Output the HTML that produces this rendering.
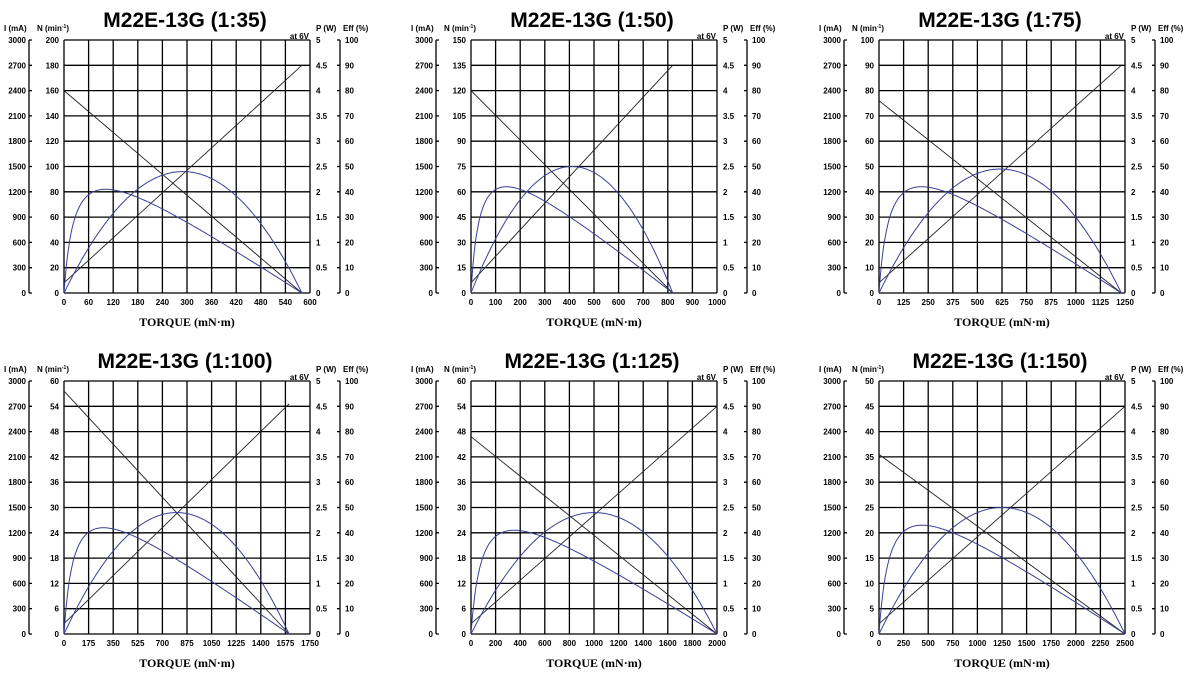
<!DOCTYPE html>
<html><head><meta charset="utf-8"><style>
body{margin:0;background:#fff;}
svg{display:block;font-family:"Liberation Sans",Arial,sans-serif;}
</style></head><body>
<svg id="s" width="1189" height="675" xmlns="http://www.w3.org/2000/svg"></svg>
<script>
var P=[
{t:"M22E-13G (1:35)",ox:0,oy:0,xt:[0,60,120,180,240,300,360,420,480,540,600],n:[0,20,40,60,80,100,120,140,160,180,200],st:0.967,n0:0.8,i1:0.9,pp:0.48,ep:0.41},
{t:"M22E-13G (1:50)",ox:407,oy:0,xt:[0,100,200,300,400,500,600,700,800,900,1000],n:[0,15,30,45,60,75,90,105,120,135,150],st:0.82,n0:0.8,i1:0.9,pp:0.5,ep:0.42},
{t:"M22E-13G (1:75)",ox:815,oy:0,xt:[0,125,250,375,500,625,750,875,1000,1125,1250],n:[0,10,20,30,40,50,60,70,80,90,100],st:0.985,n0:0.76,i1:0.9,pp:0.49,ep:0.42},
{t:"M22E-13G (1:100)",ox:0,oy:341,xt:[0,175,350,525,700,875,1050,1225,1400,1575,1750],n:[0,6,12,18,24,30,36,42,48,54,60],st:0.915,n0:0.96,i1:0.91,pp:0.48,ep:0.42},
{t:"M22E-13G (1:125)",ox:407,oy:341,xt:[0,200,400,600,800,1000,1200,1400,1600,1800,2000],n:[0,6,12,18,24,30,36,42,48,54,60],st:1.0,n0:0.78,i1:0.9,pp:0.48,ep:0.41},
{t:"M22E-13G (1:150)",ox:815,oy:341,xt:[0,250,500,750,1000,1250,1500,1750,2000,2250,2500],n:[0,5,10,15,20,25,30,35,40,45,50],st:1.0,n0:0.71,i1:0.9,pp:0.5,ep:0.43}
];
var I=[0,300,600,900,1200,1500,1800,2100,2400,2700,3000],PW=[0,0.5,1,1.5,2,2.5,3,3.5,4,4.5,5],EF=[0,10,20,30,40,50,60,70,80,90,100];
var h="";
P.forEach(function(p){
 var L=64+p.ox,T=40+p.oy,W=246,H=253,B=T+H,R=L+W;
 function X(f){return (L+f*W).toFixed(1)}function Y(f){return (B-f*H).toFixed(1)}
 h+='<text x="'+(185+p.ox)+'" y="'+(27+p.oy)+'" font-size="21" font-weight="bold" text-anchor="middle">'+p.t+'</text>';
 h+='<text x="'+(4+p.ox)+'" y="'+(31+p.oy)+'" font-size="8" font-weight="bold">I (mA)</text>';
 h+='<text x="'+(37+p.ox)+'" y="'+(31+p.oy)+'" font-size="8" font-weight="bold">N (min<tspan font-size="5" dy="-3">-1</tspan><tspan dy="3">)</tspan></text>';
 h+='<text x="'+(316+p.ox)+'" y="'+(31+p.oy)+'" font-size="8" font-weight="bold">P (W)</text>';
 h+='<text x="'+(343+p.ox)+'" y="'+(31+p.oy)+'" font-size="8" font-weight="bold">Eff (%)</text>';
 h+='<text x="'+(309+p.ox)+'" y="'+(39+p.oy)+'" font-size="8" font-weight="bold" text-anchor="end">at 6V</text>';
 var g="";
 for(var k=0;k<=10;k++){var y=Y(k/10),x=X(k/10);
  g+='M'+L+' '+y+'H'+R+'M'+x+' '+T+'V'+B;
  h+='<text x="'+(26+p.ox)+'" y="'+(+y+3)+'" font-size="8" font-weight="bold" text-anchor="end">'+I[k]+'</text>';
  h+='<text x="'+(59+p.ox)+'" y="'+(+y+3)+'" font-size="8" font-weight="bold" text-anchor="end">'+p.n[k]+'</text>';
  h+='<text x="'+(316+p.ox)+'" y="'+(+y+3)+'" font-size="8" font-weight="bold">'+PW[k]+'</text>';
  h+='<text x="'+(345+p.ox)+'" y="'+(+y+3)+'" font-size="8" font-weight="bold">'+EF[k]+'</text>';
  h+='<text x="'+x+'" y="'+(B+12)+'" font-size="8" font-weight="bold" text-anchor="middle">'+p.xt[k]+'</text>';
  if(k%1==0){g+='M'+(29+p.ox)+' '+y+'h3M'+(340+p.ox)+' '+y+'h-3';}
 }
 g+='M'+(29+p.ox)+' '+T+'V'+B+'M'+(340+p.ox)+' '+T+'V'+B;
 h+='<path d="'+g+'" stroke="#000" stroke-width="1.3" fill="none"/>';
 h+='<text x="'+(187+p.ox)+'" y="'+(B+33)+'" font-size="12" font-weight="bold" text-anchor="middle" font-family="Liberation Serif,serif">TORQUE (mN·m)</text>';
 var s=p.st,c=0.045;
 h+='<path d="M'+X(0)+' '+Y(c*p.i1/(1))+'L'+X(s)+' '+Y(p.i1)+'M'+X(0)+' '+Y(p.n0)+'L'+X(s)+' '+Y(0)+'" stroke="#222" stroke-width="0.9" fill="none"/>';
 var pd="",ed="",emax=0,pts=[];
 for(var j=0;j<=200;j++){var t=j/200;var e=t*(1-t)/(c+(1-c)*t);pts.push(e);if(e>emax)emax=e;}
 for(var j=0;j<=200;j++){var t=j/200;
  pd+=(j?'L':'M')+X(t*s)+' '+Y(4*t*(1-t)*p.pp);
  ed+=(j?'L':'M')+X(t*s)+' '+Y(pts[j]/emax*p.ep);}
 h+='<path d="'+pd+'" stroke="#3a3f96" stroke-width="1" fill="none"/><path d="'+ed+'" stroke="#3a3f96" stroke-width="1" fill="none"/>';
});
document.getElementById('s').innerHTML=h;
</script>
</body></html>
